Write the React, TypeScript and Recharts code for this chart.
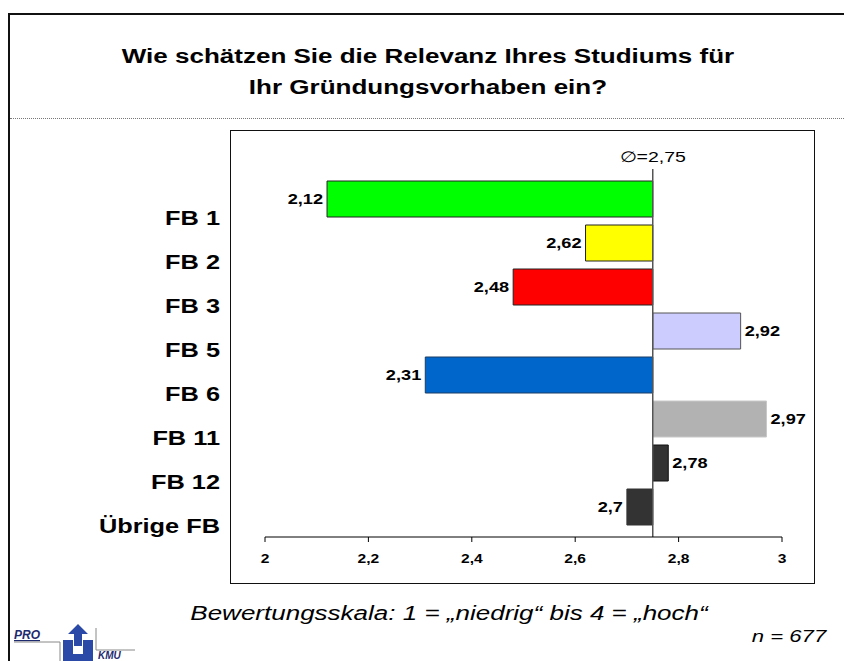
import { BarChart, Bar, Cell, XAxis, YAxis, ReferenceLine, LabelList } from "recharts";

const FONT = "'Liberation Sans', Arial, sans-serif";
const STRETCH = 1.3; // the slide text is drawn wider than normal Arial

const categories = ["FB 1", "FB 2", "FB 3", "FB 5", "FB 6", "FB 11", "FB 12", "Übrige FB"];
const scores = [2.12, 2.62, 2.48, 2.92, 2.31, 2.97, 2.78, 2.7];
const barColors = ["#00ff00", "#ffff00", "#ff0000", "#ccccff", "#0066cc", "#b2b2b2", "#333333", "#333333"];
const barStrokes = ["#222", "#222", "#222", "#555", "#1a3d66", "#c8c8c8", "#111", "#333"];
const average = 2.75;
const xTicks = [2, 2.2, 2.4, 2.6, 2.8, 3];

const rows = categories.map((name, i) => ({
  name,
  score: scores[i],
  span: [Math.min(scores[i], average), Math.max(scores[i], average)],
}));

const comma = (v: number) => String(v).replace(".", ",");

function CatTick({ x, y, payload }: any) {
  return (
    <g transform={`translate(${x},${y + 20}) scale(${STRETCH},1)`}>
      <text textAnchor="end" dominantBaseline="central" fontFamily={FONT} fontWeight="bold" fontSize={19.5} fill="#000">
        {payload.value}
      </text>
    </g>
  );
}

function ValTick({ x, y, payload }: any) {
  return (
    <g transform={`translate(${x},${y + 15}) scale(${STRETCH},1)`}>
      <text textAnchor="middle" dominantBaseline="central" fontFamily={FONT} fontWeight="bold" fontSize={12} fill="#000">
        {comma(payload.value)}
      </text>
    </g>
  );
}

function ScoreLabel({ x, y, width, height, value }: any) {
  const low = value < average;
  const tx = low ? x - 4 : x + width + 4;
  return (
    <g transform={`translate(${tx},${y + height / 2}) scale(${STRETCH},1)`}>
      <text textAnchor={low ? "end" : "start"} dominantBaseline="central" fontFamily={FONT} fontWeight="bold" fontSize={14} fill="#000">
        {comma(value)}
      </text>
    </g>
  );
}

function AvgLabel({ viewBox }: any) {
  return (
    <g transform={`translate(${viewBox.x},${viewBox.y - 12}) scale(${STRETCH},1)`}>
      <text textAnchor="middle" dominantBaseline="central" fontFamily={FONT} fontSize={15} fill="#000">
        ∅=2,75
      </text>
    </g>
  );
}

function Logo() {
  return (
    <svg width={130} height={37} style={{ position: "absolute", left: 10, top: 624 }}>
      <text x={4} y={15} fontFamily={FONT} fontStyle="italic" fontWeight="bold" fontSize={12} fill="#1e2a6e" textDecoration="underline">PRO</text>
      <line x1={4} y1={18} x2={50} y2={18} stroke="#888" />
      <line x1={50} y1={18} x2={50} y2={37} stroke="#888" />
      <path d="M53 16 h10 v14 h10 v-14 h10 v21 h-30 z" fill="#2b4aa8" />
      <path d="M68 0 l10 10 h-6 v12 h-8 v-12 h-6 z" fill="#2b4aa8" />
      <line x1={86} y1={4} x2={86} y2={26} stroke="#888" />
      <line x1={86} y1={26} x2={125} y2={26} stroke="#888" />
      <text x={88} y={35} fontFamily={FONT} fontStyle="italic" fontWeight="bold" fontSize={10} fill="#1e2a6e">KMU</text>
    </svg>
  );
}

export default function App() {
  return (
    <div style={{ position: "absolute", left: 0, top: 0, width: 844, height: 661, overflow: "hidden", background: "#fff", fontFamily: FONT }}>
      {/* outer slide frame, its right and bottom edges run off the picture */}
      <div style={{ position: "absolute", left: 8, top: 13, width: 900, height: 700, borderLeft: "2px solid #111", borderTop: "2px solid #111" }} />
      <div style={{ position: "absolute", left: 10, top: 118, width: 834, borderTop: "1px dotted #777" }} />
      <div style={{ position: "absolute", left: 0, top: 41, width: 856, textAlign: "center", fontSize: 20, fontWeight: "bold", lineHeight: "31px", transform: `scaleX(${STRETCH})` }}>
        Wie schätzen Sie die Relevanz Ihres Studiums für<br />Ihr Gründungsvorhaben ein?
      </div>
      {/* plot box */}
      <div style={{ position: "absolute", left: 230, top: 130, width: 583, height: 452, border: "1.5px solid #111" }} />
      <div style={{ position: "absolute", left: 0, top: 0 }}>
        <BarChart width={844} height={661} data={rows} layout="vertical" barSize={36}
          margin={{ top: 169, right: 62, bottom: 94, left: 220 }}>
          <XAxis type="number" domain={[2, 3]} ticks={xTicks} allowDataOverflow height={30}
            stroke="#000" tickSize={5} tick={<ValTick />} />
          <YAxis type="category" dataKey="name" width={45} axisLine={false} tickLine={false}
            tickSize={0} tickMargin={45} padding={{ top: 8, bottom: 8 }} tick={<CatTick />} />
          <Bar dataKey="span" isAnimationActive={false} strokeWidth={1}>
            {rows.map((_, i) => <Cell key={i} fill={barColors[i]} stroke={barStrokes[i]} />)}
            <LabelList dataKey="score" content={<ScoreLabel />} />
          </Bar>
          <ReferenceLine x={average} stroke="#555" strokeWidth={1.5} label={<AvgLabel />} />
        </BarChart>
      </div>
      <div style={{ position: "absolute", left: 0, top: 601, width: 898, textAlign: "center", fontSize: 20, fontStyle: "italic", lineHeight: "24px", transform: `scaleX(${STRETCH})` }}>
        Bewertungsskala: 1 = „niedrig“ bis 4 = „hoch“
      </div>
      <div style={{ position: "absolute", right: 18, top: 625, fontSize: 17, fontStyle: "italic", lineHeight: "24px", transform: `scaleX(${STRETCH})`, transformOrigin: "right center" }}>
        n = 677
      </div>
      <Logo />
    </div>
  );
}
